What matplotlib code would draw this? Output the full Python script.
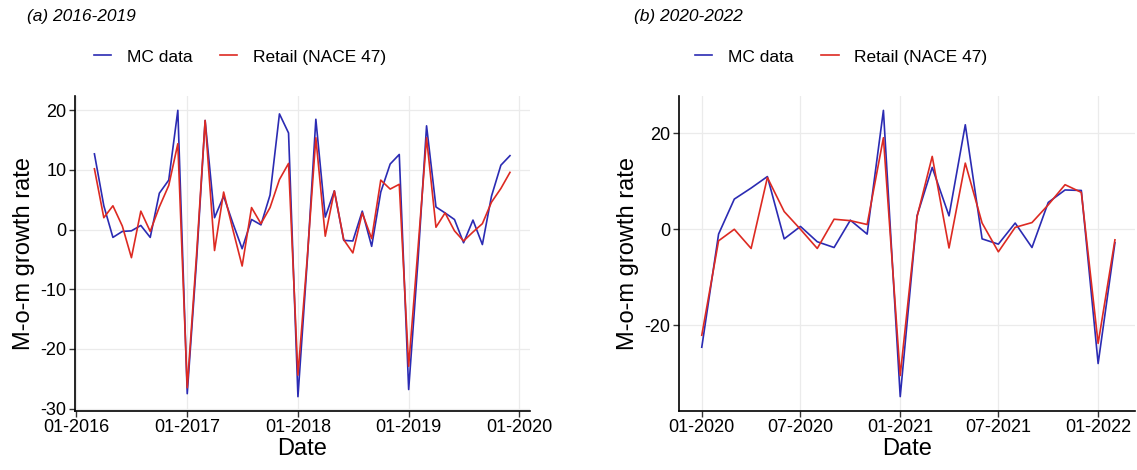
import numpy as np
import pandas as pd
import matplotlib
matplotlib.use("Agg")
import matplotlib.pyplot as plt
import matplotlib.dates as mdates

plt.rcParams['font.family'] = ['Liberation Sans', 'DejaVu Sans']
plt.rcParams['axes.unicode_minus'] = False

# panel (a): Mar 2016 - Dec 2019
dates_a = pd.date_range("2016-03-01", "2019-12-01", freq="MS")
mc_a = [12.7, 4.0, -1.3, -0.3, -0.2, 0.7, -1.3, 6.1, 8.3, 20.0,
        -27.5, -5.0, 18.3, 2.0, 5.6, 1.0, -3.2, 1.7, 0.8, 5.8, 19.4, 16.2,
        -28.0, -5.0, 18.5, 2.1, 6.5, -1.8, -1.9, 3.1, -2.8, 6.3, 11.0, 12.6,
        -26.8, -5.0, 17.4, 3.8, 2.8, 1.7, -2.2, 1.6, -2.5, 5.6, 10.8, 12.4]
retail_a = [10.2, 2.0, 4.0, 0.6, -4.7, 3.1, -0.3, 3.8, 7.4, 14.4,
            -26.5, -4.0, 18.3, -3.5, 6.3, -0.1, -6.1, 3.7, 1.0, 3.7, 8.4, 11.1,
            -24.4, -4.5, 15.4, -1.1, 6.5, -1.7, -3.9, 2.8, -1.5, 8.3, 6.8, 7.6,
            -22.9, -3.0, 15.4, 0.4, 2.8, -0.2, -1.9, -0.4, 1.0, 4.6, 6.9, 9.6]

# panel (b): Jan 2020 - Feb 2022
dates_b = pd.date_range("2020-01-01", "2022-02-01", freq="MS")
mc_b = [-24.6, -1.0, 6.3, 8.6, 11.0, -2.0, 0.6, -2.6, -3.8, 1.9, -1.0, 24.8,
        -34.9, 2.8, 12.9, 2.8, 21.8, -2.0, -3.1, 1.3, -3.8, 5.6, 8.2, 8.1,
        -28.0, -2.8]
retail_b = [-22.1, -2.4, 0.0, -4.0, 10.8, 3.7, 0.0, -4.0, 2.1, 1.8, 1.0, 19.1,
            -30.5, 2.6, 15.2, -3.9, 13.8, 1.3, -4.7, 0.4, 1.4, 5.1, 9.3, 7.7,
            -23.8, -2.2]

blue = "#2b2bb3"
red = "#dd2a22"
W, H = 1137, 470

fig = plt.figure(figsize=(W / 100, H / 100), dpi=100)


def panel(rect, dates, mc, retail, xlim, ylim, yticks, xticks, title, tx, legx):
    ax = fig.add_axes(rect)
    l1, = ax.plot(dates, mc, color=blue, lw=1.2, label="MC data")
    l2, = ax.plot(dates, retail, color=red, lw=1.2, label="Retail (NACE 47)")
    ax.set_xlim(pd.Timestamp(xlim[0]), pd.Timestamp(xlim[1]))
    ax.set_ylim(*ylim)
    ax.set_yticks(yticks)
    ax.set_xticks([pd.Timestamp(t) for t in xticks])
    ax.xaxis.set_major_formatter(mdates.DateFormatter("%m-%Y"))
    ax.grid(True, color="#ebebeb", lw=0.9)
    ax.set_axisbelow(True)
    for s in ["top", "right"]:
        ax.spines[s].set_visible(False)
    for s in ["left", "bottom"]:
        ax.spines[s].set_linewidth(1.2)
    ax.tick_params(labelsize=13, length=4, width=1, color="#333333", pad=2)
    ax.set_xlabel("Date", fontsize=17, labelpad=1)
    ax.set_ylabel("M-o-m growth rate", fontsize=17, labelpad=4)
    fig.text(tx / W, 1 - 17 / H, title, fontsize=12.5, style="italic",
             va="center", ha="left")
    fig.legend(handles=[l1, l2], loc="center", bbox_to_anchor=(legx / W, 1 - 57 / H),
               ncol=2, frameon=False, fontsize=12.5, handlelength=1.0,
               columnspacing=1.6, handletextpad=0.9)
    return ax


panel([75 / W, 59 / H, 455 / W, 315 / H], dates_a, mc_a, retail_a,
      ("2015-12-28", "2020-02-05"), (-30.4, 22.4), [-30, -20, -10, 0, 10, 20],
      ["2016-01-01", "2017-01-01", "2018-01-01", "2019-01-01", "2020-01-01"],
      "(a) 2016-2019", 27, 240)
panel([679 / W, 59 / H, 456 / W, 315 / H], dates_b, mc_b, retail_b,
      ("2019-11-20", "2022-03-10"), (-37.9, 27.8), [-20, 0, 20],
      ["2020-01-01", "2020-07-01", "2021-01-01", "2021-07-01", "2022-01-01"],
      "(b) 2020-2022", 634, 841)

fig.savefig("out.png", dpi=100)
